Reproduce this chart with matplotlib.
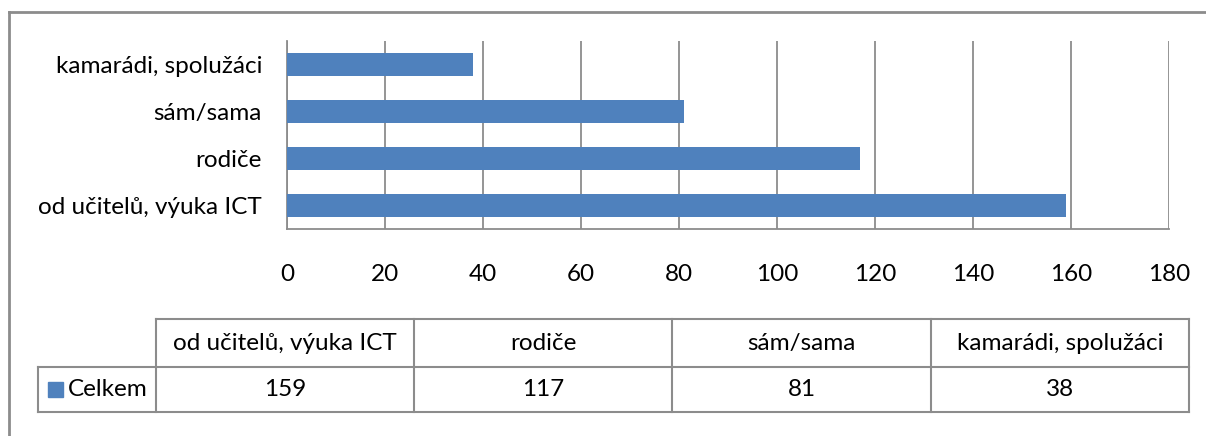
import matplotlib.pyplot as plt
from matplotlib.lines import Line2D
from matplotlib.patches import Rectangle

categories = ["od učitelů, výuka ICT", "rodiče", "sám/sama", "kamarádi, spolužáci"]
values = [159, 117, 81, 38]
series_name = "Celkem"
x_ticks = [0, 20, 40, 60, 80, 100, 120, 140, 160, 180]

W, H = 1206, 436
BLUE = "#4F81BD"
GRAY = "#8C8C8C"
FS = 17.5

plt.rcParams['font.family'] = ['Lato', 'DejaVu Sans']

fig = plt.figure(figsize=(W / 100, H / 100), dpi=100)


def fx(px):
    return px / W


def fy(py):
    return 1 - py / H


# plot area in pixels
x0, x1, y0, y1 = 287, 1169, 41, 229
ax = fig.add_axes([fx(x0), fy(y1), fx(x1) - fx(x0), fy(y0) - fy(y1)])
ax.barh(range(len(categories)), values, height=0.49, color=BLUE, zorder=3)
ax.set_xlim(0, 180)
ax.set_ylim(-0.5, len(categories) - 0.5)
ax.set_xticks(x_ticks)
ax.set_yticks(range(len(categories)))
ax.set_yticklabels(categories)
ax.tick_params(length=0, labelsize=FS, colors="black")
ax.tick_params(axis="x", pad=25)
ax.tick_params(axis="y", pad=18)
ax.grid(axis="x", color=GRAY, linewidth=1.3, zorder=0)
for s in ["top", "right"]:
    ax.spines[s].set_visible(False)
for s in ["left", "bottom"]:
    ax.spines[s].set_color(GRAY)
    ax.spines[s].set_linewidth(1.3)

# outer frame (only top and left visible)
fig.add_artist(Line2D([fx(9), fx(9)], [fy(12), 0], color=GRAY, lw=2))
fig.add_artist(Line2D([fx(9), 1], [fy(12), fy(12)], color=GRAY, lw=2))

# data table below the chart
col_x = [156, 414, 672, 931, 1189]
row_y = [319, 367, 412]
lab_x0 = 38


def hline(xa, xb, y):
    fig.add_artist(Line2D([fx(xa), fx(xb)], [fy(y), fy(y)], color=GRAY, lw=1.5))


def vline(x, ya, yb):
    fig.add_artist(Line2D([fx(x), fx(x)], [fy(ya), fy(yb)], color=GRAY, lw=1.5))


hline(col_x[0], col_x[-1], row_y[0])
hline(lab_x0, col_x[-1], row_y[1])
hline(lab_x0, col_x[-1], row_y[2])
for x in col_x:
    vline(x, row_y[0], row_y[2])
vline(lab_x0, row_y[1], row_y[2])

for i, cat in enumerate(categories):
    cx = (col_x[i] + col_x[i + 1]) / 2
    fig.text(fx(cx), fy((row_y[0] + row_y[1]) / 2), cat, ha="center", va="center", fontsize=FS)
    fig.text(fx(cx), fy((row_y[1] + row_y[2]) / 2), str(values[i]), ha="center", va="center", fontsize=FS)

mid = (row_y[1] + row_y[2]) / 2
fig.add_artist(Rectangle((fx(48), fy(mid + 7.5)), fx(15), fy(0) - fy(15), color=BLUE,
                         transform=fig.transFigure))
fig.text(fx(68), fy(mid), series_name, ha="left", va="center", fontsize=FS)

fig.savefig("out.png", dpi=100)
